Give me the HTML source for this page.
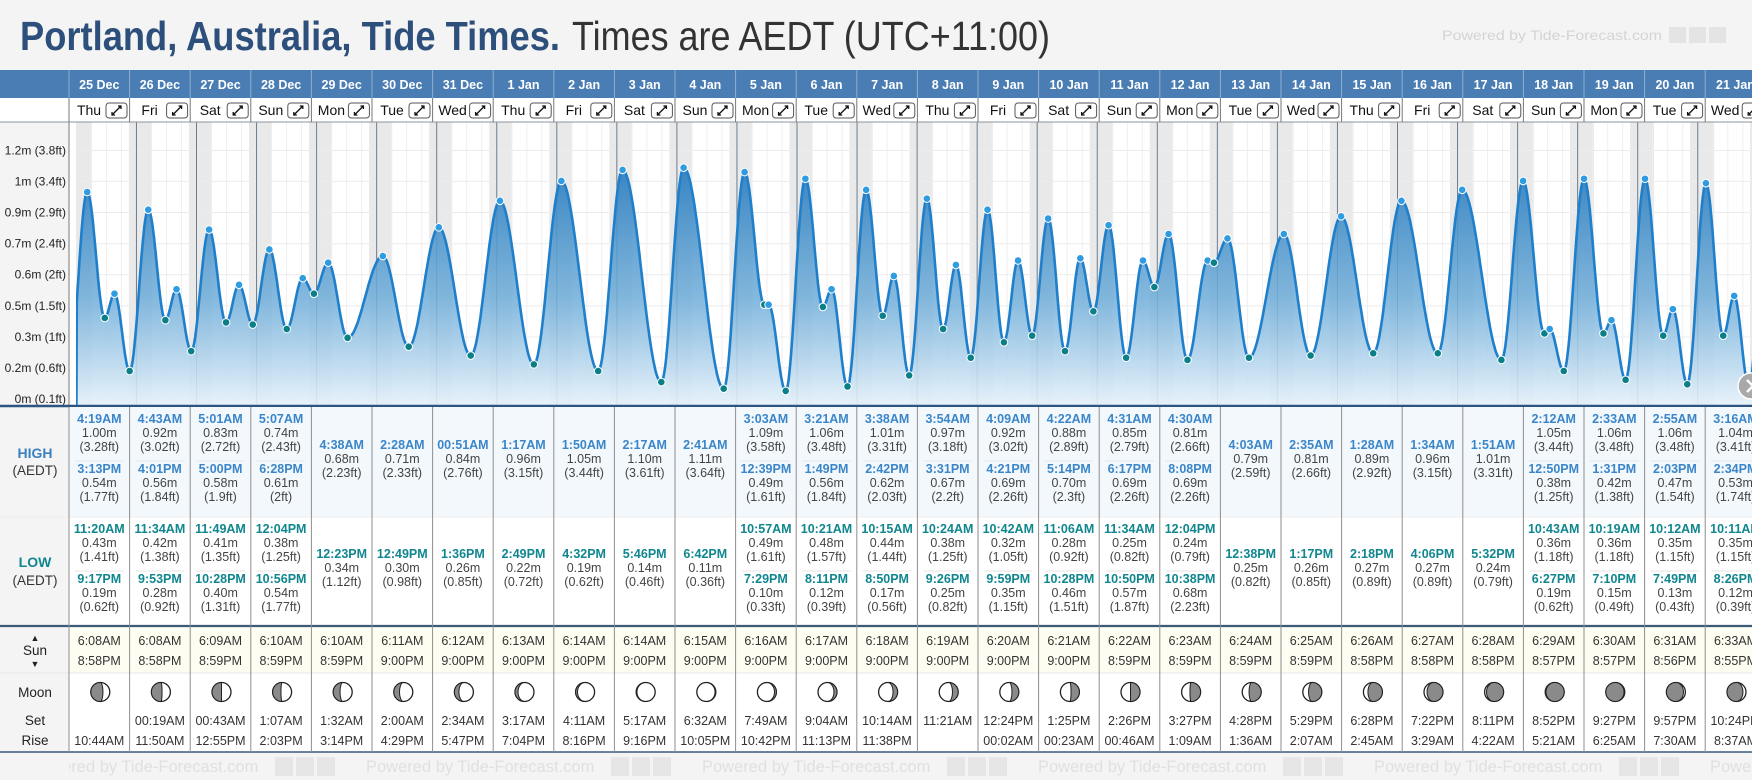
<!DOCTYPE html>
<html><head><meta charset="utf-8"><style>
html,body{margin:0;padding:0;background:#f4f4f4;}
svg{display:block;font-family:"Liberation Sans",sans-serif;}
</style></head><body>
<svg id="root" width="1752" height="780" viewBox="0 0 1752 780" xmlns="http://www.w3.org/2000/svg">
<defs>
<linearGradient id="fillGrad" x1="0" y1="0" x2="0" y2="1">
<stop offset="0" stop-color="#2f7fc0" stop-opacity="0.95"/>
<stop offset="0.55" stop-color="#6fadd9" stop-opacity="0.85"/>
<stop offset="1" stop-color="#e6f2fb" stop-opacity="0.9"/>
</linearGradient>
<clipPath id="plotClip"><rect x="76" y="122" width="1676" height="283"/></clipPath>
</defs>
<rect x="0" y="0" width="1752" height="780" fill="#f4f4f4"/>
<text x="20" y="50" font-size="41" font-weight="bold" fill="#2d4f7b" textLength="540" lengthAdjust="spacingAndGlyphs">Portland, Australia, Tide Times.</text>
<text x="572" y="50" font-size="41" fill="#333" textLength="478" lengthAdjust="spacingAndGlyphs">Times are AEDT (UTC+11:00)</text>
<text x="1442" y="40" font-size="14" fill="#d4d4d4" textLength="220" lengthAdjust="spacingAndGlyphs">Powered by Tide-Forecast.com</text>
<g id="topIcons"></g>
<g id="chart"></g>
</svg>
<script>
const days = ["25 Dec","26 Dec","27 Dec","28 Dec","29 Dec","30 Dec","31 Dec","1 Jan","2 Jan","3 Jan","4 Jan","5 Jan","6 Jan","7 Jan","8 Jan","9 Jan","10 Jan","11 Jan","12 Jan","13 Jan","14 Jan","15 Jan","16 Jan","17 Jan","18 Jan","19 Jan","20 Jan","21 Jan"];
const dayNames = ["Thu","Fri","Sat","Sun","Mon","Tue","Wed","Thu","Fri","Sat","Sun","Mon","Tue","Wed","Thu","Fri","Sat","Sun","Mon","Tue","Wed","Thu","Fri","Sat","Sun","Mon","Tue","Wed"];
const hiTimes = [["4:19AM","3:13PM"],["4:43AM","4:01PM"],["5:01AM","5:00PM"],["5:07AM","6:28PM"],["4:38AM"],["2:28AM"],["00:51AM"],["1:17AM"],["1:50AM"],["2:17AM"],["2:41AM"],["3:03AM","12:39PM"],["3:21AM","1:49PM"],["3:38AM","2:42PM"],["3:54AM","3:31PM"],["4:09AM","4:21PM"],["4:22AM","5:14PM"],["4:31AM","6:17PM"],["4:30AM","8:08PM"],["4:03AM"],["2:35AM"],["1:28AM"],["1:34AM"],["1:51AM"],["2:12AM","12:50PM"],["2:33AM","1:31PM"],["2:55AM","2:03PM"],["3:16AM","2:34PM"]];
const hiVals = [[1.00,0.54],[0.92,0.56],[0.83,0.58],[0.74,0.61],[0.68],[0.71],[0.84],[0.96],[1.05],[1.10],[1.11],[1.09,0.49],[1.06,0.56],[1.01,0.62],[0.97,0.67],[0.92,0.69],[0.88,0.70],[0.85,0.69],[0.81,0.69],[0.79],[0.81],[0.89],[0.96],[1.01],[1.05,0.38],[1.06,0.42],[1.06,0.47],[1.04,0.53]];
const loTimes = [["11:20AM","9:17PM"],["11:34AM","9:53PM"],["11:49AM","10:28PM"],["12:04PM","10:56PM"],["12:23PM"],["12:49PM"],["1:36PM"],["2:49PM"],["4:32PM"],["5:46PM"],["6:42PM"],["10:57AM","7:29PM"],["10:21AM","8:11PM"],["10:15AM","8:50PM"],["10:24AM","9:26PM"],["10:42AM","9:59PM"],["11:06AM","10:28PM"],["11:34AM","10:50PM"],["12:04PM","10:38PM"],["12:38PM"],["1:17PM"],["2:18PM"],["4:06PM"],["5:32PM"],["10:43AM","6:27PM"],["10:19AM","7:10PM"],["10:12AM","7:49PM"],["10:11AM","8:26PM"]];
const loVals = [[0.43,0.19],[0.42,0.28],[0.41,0.40],[0.38,0.54],[0.34],[0.30],[0.26],[0.22],[0.19],[0.14],[0.11],[0.49,0.10],[0.48,0.12],[0.44,0.17],[0.38,0.25],[0.32,0.35],[0.28,0.46],[0.25,0.57],[0.24,0.68],[0.25],[0.26],[0.27],[0.27],[0.24],[0.36,0.19],[0.36,0.15],[0.35,0.13],[0.35,0.12]];
const prevExtreme = {t:-0.12, v:0.20};
const nextExtreme = {t:28.15, v:1.00};
const sunrise = ["6:08AM","6:08AM","6:09AM","6:10AM","6:10AM","6:11AM","6:12AM","6:13AM","6:14AM","6:14AM","6:15AM","6:16AM","6:17AM","6:18AM","6:19AM","6:20AM","6:21AM","6:22AM","6:23AM","6:24AM","6:25AM","6:26AM","6:27AM","6:28AM","6:29AM","6:30AM","6:31AM","6:33AM"];
const sunset = ["8:58PM","8:58PM","8:59PM","8:59PM","8:59PM","9:00PM","9:00PM","9:00PM","9:00PM","9:00PM","9:00PM","9:00PM","9:00PM","9:00PM","9:00PM","9:00PM","9:00PM","8:59PM","8:59PM","8:59PM","8:59PM","8:58PM","8:58PM","8:58PM","8:57PM","8:57PM","8:56PM","8:55PM"];
const moonSet = ["","00:19AM","00:43AM","1:07AM","1:32AM","2:00AM","2:34AM","3:17AM","4:11AM","5:17AM","6:32AM","7:49AM","9:04AM","10:14AM","11:21AM","12:24PM","1:25PM","2:26PM","3:27PM","4:28PM","5:29PM","6:28PM","7:22PM","8:11PM","8:52PM","9:27PM","9:57PM","10:24PM"];
const moonRise = ["10:44AM","11:50AM","12:55PM","2:03PM","3:14PM","4:29PM","5:47PM","7:04PM","8:16PM","9:16PM","10:05PM","10:42PM","11:13PM","11:38PM","","00:02AM","00:23AM","00:46AM","1:09AM","1:36AM","2:07AM","2:45AM","3:29AM","4:22AM","5:21AM","6:25AM","7:30AM","8:37AM"];
const moonPhase = [0.18,0.22,0.25,0.28,0.32,0.35,0.38,0.42,0.45,0.48,0.52,0.55,0.58,0.62,0.65,0.68,0.72,0.75,0.78,0.82,0.85,0.88,0.92,0.95,0.98,0.02,0.05,0.08];
const yTickVals = [0.063,0.204,0.344,0.485,0.626,0.766,0.907,1.048,1.188,1.329];
const yTickLabels = ["0m (0.1ft)","0.2m (0.6ft)","0.3m (1ft)","0.5m (1.5ft)","0.6m (2ft)","0.7m (2.4ft)","0.9m (2.9ft)","1m (3.4ft)","1.2m (3.8ft)","1.3m (4.3ft)"];

const NS="http://www.w3.org/2000/svg";
const root=document.getElementById('chart');
function mk(tag,attrs,parent,txt){const e=document.createElementNS(NS,tag);for(const k in attrs)e.setAttribute(k,attrs[k]);if(txt!==undefined)e.textContent=txt;(parent||root).appendChild(e);return e;}
const COL0=69, COLW=60.6, T0=76.4, DAYW=60.05;
const colX=i=>COL0+i*COLW;
const xT=t=>T0+t*DAYW;
const yV=v=>413-221*v;
function parseT(s){const m=s.match(/(\d+):(\d+)(AM|PM)/);let h=+m[1]%12;if(m[3]==="PM")h+=12;return (h+ +m[2]/60)/24;}
const ftStr=m=>parseFloat((m*3.28084).toFixed(2))+"ft";

let e=mk('rect',{x:69,y:122,width:1683,height:284,fill:'#ffffff'});


const plot=mk('g',{'clip-path':'url(#plotClip)'});


for(let d=-1;d<days.length;d++){
  const s=sunset[Math.max(d,0)], r=sunrise[Math.min(d+1,days.length-1)];
  const x1=xT(d+parseT(s)), x2=xT(d+1+parseT(r));
  e=mk('rect',{x:x1,y:122,width:x2-x1,height:284,fill:'#e9e9e9'},plot);
  
  
}
for(let d=0;d<days.length+1;d++){for(let q=1;q<4;q++){const x=xT(d+q/4);
  e=mk('line',{x1:x,x2:x,y1:122,y2:406,stroke:'#efefef','stroke-width':1},plot);
  
  }}
yTickVals.forEach(v=>{e=mk('line',{x1:76,x2:1752,y1:yV(v),y2:yV(v),stroke:'#ececec','stroke-width':1},plot);
  
  });
for(let d=1;d<days.length+1;d++){const x=xT(d);
  e=mk('line',{x1:x,x2:x,y1:122,y2:406,stroke:'#6b7d90','stroke-width':1},plot);
  
  }

const ext=[];
days.forEach((d,i)=>{hiTimes[i].forEach((t,j)=>ext.push({t:i+parseT(t),v:hiVals[i][j],hi:true}));
  loTimes[i].forEach((t,j)=>ext.push({t:i+parseT(t),v:loVals[i][j],hi:false}));});
ext.sort((a,b)=>a.t-b.t);
const all=[prevExtreme,...ext,nextExtreme];
const pts=[];
for(let k=0;k<all.length-1;k++){const a=all[k],b=all[k+1];const n=Math.max(4,Math.ceil((b.t-a.t)*DAYW));
  for(let s=0;s<n;s++){const f=s/n;const t=a.t+(b.t-a.t)*f;if(t<0)continue;
    pts.push([xT(t),yV(a.v+(b.v-a.v)*(1-Math.cos(Math.PI*f))/2)]);}}
pts.push([xT(nextExtreme.t),yV(nextExtreme.v)]);
const lineD="M"+pts.map(p=>p[0].toFixed(1)+","+p[1].toFixed(1)).join("L");
e=mk('path',{d:"M"+xT(0)+",406L"+lineD.slice(1)+"L"+pts[pts.length-1][0]+",406Z",fill:'url(#fillGrad)'},plot);


e=mk('path',{d:"M"+xT(0)+",406L"+lineD.slice(1),fill:'none',stroke:'#1f7fca','stroke-width':2.6,'stroke-linejoin':'round'},plot);


ext.forEach(p=>{e=mk('circle',{cx:xT(p.t),cy:yV(p.v),r:3.8,fill:p.hi?'#2f9be0':'#0b7f88',stroke:'#fff','stroke-width':1},plot);
  
  });

e=mk('rect',{x:0,y:122,width:69,height:285,fill:'#f4f4f4'});


yTickVals.forEach((v,i)=>{const y=yV(v);if(y<128)return;
  e=mk('text',{x:66,y:y+4,'font-size':12,fill:'#222','text-anchor':'end'},root,yTickLabels[i]);
  
  });
e=mk('line',{x1:69,x2:69,y1:122,y2:406,stroke:'#777','stroke-width':1});


e=mk('line',{x1:0,x2:1752,y1:406,y2:406,stroke:'#2e5580','stroke-width':2.5});



e=mk('rect',{x:0,y:70,width:1752,height:28,fill:'#4a7db3'});


e=mk('rect',{x:0,y:98,width:1752,height:24,fill:'#ffffff'});


e=mk('line',{x1:0,x2:1752,y1:122,y2:122,stroke:'#8a95a0','stroke-width':1});


days.forEach((d,i)=>{const x=colX(i),cx=x+COLW/2;
  e=mk('line',{x1:x,x2:x,y1:70,y2:98,stroke:'#8fb0d2','stroke-width':1});
  
  
  e=mk('text',{x:cx,y:89,'font-size':12.5,'font-weight':'bold',fill:'#fff','text-anchor':'middle'},root,d);
  
  
  e=mk('line',{x1:x,x2:x,y1:98,y2:122,stroke:'#777','stroke-width':1});
  
  
  e=mk('text',{x:x+20,y:115,'font-size':14,fill:'#111','text-anchor':'middle'},root,dayNames[i]);
  
  
  const g=mk('g',{});
  
  
  mk('rect',{x:x+37,y:103,width:21,height:15,rx:3,fill:'#fff',stroke:'#555','stroke-width':1},g);
  mk('path',{d:`M${x+43},${115}L${x+52},${106}M${x+49},${106}L${x+52},${106}L${x+52},${109}M${x+43},${112}L${x+43},${115}L${x+46},${115}`,stroke:'#111','stroke-width':1.3,fill:'none'},g);
});

e=mk('rect',{x:69,y:407,width:1683,height:110,fill:'#f3f8fd'});


e=mk('rect',{x:69,y:517,width:1683,height:109,fill:'#ffffff'});


e=mk('rect',{x:69,y:627,width:1683,height:46,fill:'#fdfdf1'});


e=mk('rect',{x:69,y:673,width:1683,height:79,fill:'#ffffff'});


e=mk('line',{x1:0,x2:1752,y1:517,y2:517,stroke:'#eeeeee','stroke-width':1});


e=mk('line',{x1:0,x2:1752,y1:673,y2:673,stroke:'#e8e8e8','stroke-width':1});


e=mk('line',{x1:0,x2:1752,y1:626,y2:626,stroke:'#3d5a78','stroke-width':2.2});


e=mk('line',{x1:0,x2:1752,y1:752,y2:752,stroke:'#3d5a78','stroke-width':1.5});



function lbl(x,y,t,opts,name){const a=Object.assign({x:x,y:y,'font-size':12.5,fill:'#444','text-anchor':'middle'},opts||{});
  const el=mk('text',a,root,t);return el;}
lbl(35,458,"HIGH",{'font-size':14,'font-weight':'bold',fill:'#3b80c0'},'high-label');
lbl(35,475,"(AEDT)",{'font-size':13.5,fill:'#333'},'high-tz-label');
lbl(35,567,"LOW",{'font-size':14,'font-weight':'bold',fill:'#10868f'},'low-label');
lbl(35,585,"(AEDT)",{'font-size':13.5,fill:'#333'},'low-tz-label');
lbl(35,641,"▲",{'font-size':9,fill:'#222'},'sunrise-icon');
lbl(35,655,"Sun",{'font-size':13.5,fill:'#222'},'sun-label');
lbl(35,667,"▼",{'font-size':9,fill:'#222'},'sunset-icon');
lbl(35,697,"Moon",{'font-size':13.5,fill:'#222'},'moon-label');
lbl(35,725,"Set",{'font-size':13.5,fill:'#222'},'moonset-label');
lbl(35,745,"Rise",{'font-size':13.5,fill:'#222'},'moonrise-label');

function moonIcon(cx,cy,r,p){
  const g=mk('g',{});
  
  
  mk('circle',{cx:cx,cy:cy,r:r,fill:'#fff',stroke:'#222','stroke-width':1.3},g);
  const k=p<0.5?2*p:2-2*p; // lit fraction (linear)
  const waxing=p<0.5;
  const rx=r*Math.abs(1-2*k);
  const sweepHalf=waxing?0:1;
  const bulgeIntoLit = k<0.5;
  let sweepE = (bulgeIntoLit? (waxing?0:1) : (waxing?1:0));
  const d=`M${cx},${cy-r}A${r},${r} 0 0 ${sweepHalf} ${cx},${cy+r}A${rx},${r} 0 0 ${sweepE} ${cx},${cy-r}Z`;
  mk('path',{d:d,fill:'#8a8a8a',stroke:'#222','stroke-width':1},g);
}

days.forEach((d,i)=>{const x=colX(i),cx=x+COLW/2;
  e=mk('line',{x1:x,x2:x,y1:407,y2:752,stroke:'#8e8e8e','stroke-width':1});
  
  
  const hs=hiTimes[i];
  if(hs.length===2){
    hs.forEach((t,j)=>{const y0=j?473:423;
      lbl(cx,y0,t,{'font-weight':'bold',fill:'#3b86c8'},'high-tide-time');
      lbl(cx,y0+14,hiVals[i][j].toFixed(2)+"m",{},'high-tide-height');
      lbl(cx,y0+28,"("+ftStr(hiVals[i][j])+")",{},'high-tide-height-ft');});
    e=mk('line',{x1:x+6,x2:x+COLW-6,y1:461,y2:461,stroke:'#e3e7ec','stroke-width':1});
    
    
  } else {
    lbl(cx,449,hs[0],{'font-weight':'bold',fill:'#3b86c8'},'high-tide-time');
    lbl(cx,463,hiVals[i][0].toFixed(2)+"m",{},'high-tide-height');
    lbl(cx,477,"("+ftStr(hiVals[i][0])+")",{},'high-tide-height-ft');
  }
  const ls=loTimes[i];
  if(ls.length===2){
    ls.forEach((t,j)=>{const y0=j?583:533;
      lbl(cx,y0,t,{'font-weight':'bold',fill:'#10868f'},'low-tide-time');
      lbl(cx,y0+14,loVals[i][j].toFixed(2)+"m",{},'low-tide-height');
      lbl(cx,y0+28,"("+ftStr(loVals[i][j])+")",{},'low-tide-height-ft');});
    e=mk('line',{x1:x+6,x2:x+COLW-6,y1:571,y2:571,stroke:'#e6e6e6','stroke-width':1});
    
    
  } else {
    lbl(cx,558,ls[0],{'font-weight':'bold',fill:'#10868f'},'low-tide-time');
    lbl(cx,572,loVals[i][0].toFixed(2)+"m",{},'low-tide-height');
    lbl(cx,586,"("+ftStr(loVals[i][0])+")",{},'low-tide-height-ft');
  }
  lbl(cx,645,sunrise[i],{fill:'#333'},'sunrise-time');
  lbl(cx,665,sunset[i],{fill:'#333'},'sunset-time');
  moonIcon(cx+1,692,9.5,moonPhase[i]);
  if(moonSet[i])lbl(cx,725,moonSet[i],{fill:'#333'},'moonset-time');
  if(moonRise[i])lbl(cx,745,moonRise[i],{fill:'#333'},'moonrise-time');
});

const fg=mk('g',{});


const fclip=mk('clipPath',{id:'footClip'});
mk('rect',{x:69,y:752,width:1683,height:28},fclip);
const wg=mk('g',{'clip-path':'url(#footClip)'},fg);
[30,366,702,1038,1374,1710].forEach(x=>{
  e=mk('text',{x:x,y:772,'font-size':16.5,fill:'#e0e0e0'},wg,"Powered by Tide-Forecast.com");
  
  
  for(let k=0;k<3;k++){mk('rect',{x:x+245+k*21,y:757,width:18,height:19,fill:'#e6e6e6'},wg);}
});
const ti=document.getElementById('topIcons');
for(let k=0;k<3;k++){mk('rect',{x:1669+k*20,y:27,width:17,height:16,fill:'#e4e4e4'},ti);}
const nb=mk('g',{});


mk('circle',{cx:1751,cy:386,r:13,fill:'#a9a9a9',stroke:'#fff','stroke-width':1.5},nb);
mk('path',{d:'M1747,380L1753,386L1747,392',stroke:'#fff','stroke-width':2.5,fill:'none'},nb);
</script>
</body></html>
